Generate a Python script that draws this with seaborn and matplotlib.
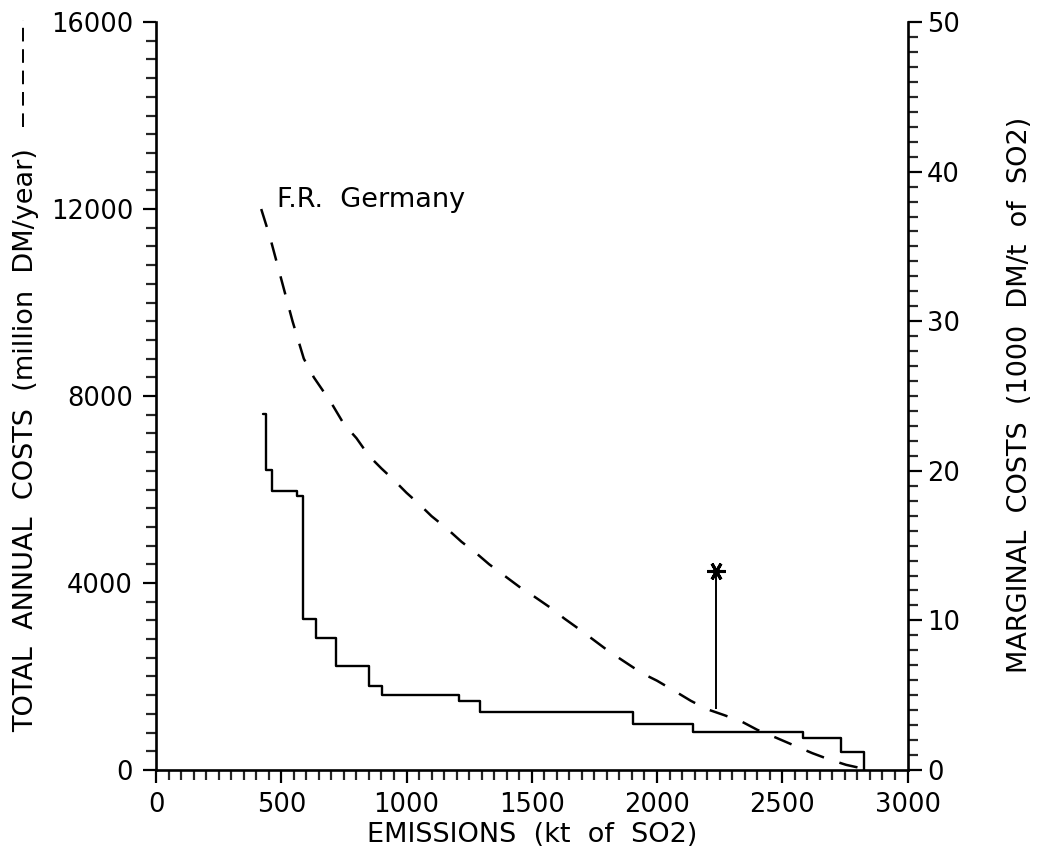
import numpy as np
import pandas as pd
import matplotlib
matplotlib.use("Agg")
import matplotlib.pyplot as plt
from matplotlib.lines import Line2D
from matplotlib.ticker import MultipleLocator
import seaborn as sns

# Total annual abatement cost curve (million DM/year) vs. remaining emissions (kt SO2)
total_emissions = [420, 455, 490, 545, 590, 630, 700, 750, 800, 850, 900, 950, 1000,
                   1050, 1100, 1160, 1220, 1280, 1330, 1400, 1450, 1510, 1575, 1630,
                   1690, 1750, 1810, 1875, 1940, 2000, 2070, 2135, 2200, 2270, 2340,
                   2400, 2480, 2545, 2620, 2685, 2755, 2830]
total_costs = [12000, 11400, 10700, 9600, 8800, 8400, 7850, 7400, 7100, 6720, 6450,
               6200, 5930, 5690, 5430, 5170, 4880, 4630, 4400, 4120, 3920, 3710, 3470,
               3240, 3010, 2770, 2530, 2300, 2070, 1910, 1690, 1480, 1300, 1170, 1030,
               860, 680, 530, 360, 230, 110, 20]

# Marginal cost step function (1000 DM/t SO2), each level holds until the next breakpoint
step_emissions = [428, 439, 462, 562, 588, 638, 720, 850, 901, 1211, 1293, 1903,
                  2143, 2584, 2733, 2828]
marginal_costs = [23.8, 20.05, 18.67, 18.3, 10.1, 8.8, 6.95, 5.64, 5.0, 4.63, 3.9,
                  3.05, 2.56, 2.12, 1.18, 0.0]

# Current emission point
point_emission = 2235
point_total_cost = 1300
point_marginal = 13.3

country = "F.R.  Germany"

sns.set_theme(style="ticks")
plt.rcParams["font.family"] = ["DejaVu Sans"]

fig = plt.figure(figsize=(10.4, 8.48), dpi=100)
ax = fig.add_axes([0.15, 0.092, 0.7226, 0.882])
ax2 = ax.twinx()

total_df = pd.DataFrame({"emissions": total_emissions, "cost": total_costs})
marg_df = pd.DataFrame({"emissions": step_emissions, "marginal": marginal_costs})

sns.lineplot(data=total_df, x="emissions", y="cost", ax=ax, color="black",
             linewidth=1.8, linestyle=(0, (7.5, 6.5)), estimator=None, sort=False)
sns.lineplot(data=marg_df, x="emissions", y="marginal", ax=ax2, color="black",
             linewidth=1.7, drawstyle="steps-post", estimator=None, sort=False)

# Current point: connector from the total cost curve up to the marginal cost marker
ax2.vlines(point_emission, point_total_cost * 50 / 16000, point_marginal,
           color="black", linewidth=1.4)
ax2.plot([point_emission], [point_marginal], marker=(6, 2, 30), markersize=13,
         markeredgewidth=2.2, color="black")

ax.text(482, 12190, country, fontsize=19.5, ha="left", va="center", color="black")

# Axes limits and ticks
ax.set_xlim(0, 3000)
ax.set_ylim(0, 16000)
ax2.set_ylim(0, 50)
ax.xaxis.set_major_locator(MultipleLocator(500))
ax.xaxis.set_minor_locator(MultipleLocator(50))
ax.yaxis.set_major_locator(MultipleLocator(4000))
ax.yaxis.set_minor_locator(MultipleLocator(400))
ax2.yaxis.set_major_locator(MultipleLocator(10))
ax2.yaxis.set_minor_locator(MultipleLocator(1))

for a in (ax, ax2):
    a.spines["top"].set_visible(False)
    for s in a.spines.values():
        s.set_linewidth(1.9)
        s.set_color("black")
ax.spines["right"].set_visible(False)
ax2.spines["left"].set_visible(False)
ax2.spines["bottom"].set_visible(False)

ax.tick_params(axis="both", which="major", direction="out", length=9.5, width=1.6,
               labelsize=18.5, colors="black")
ax.tick_params(axis="both", which="minor", direction="out", length=7, width=1.6)
ax.tick_params(axis="y", which="major", pad=7)
ax.tick_params(axis="x", which="major", pad=6)
ax2.tick_params(axis="y", which="major", direction="out", length=10, width=1.6,
                labelsize=18.5, pad=4, colors="black")
ax2.tick_params(axis="y", which="minor", direction="out", length=7, width=1.6)

ax.set_xlabel("EMISSIONS  (kt  of  SO2)", fontsize=19.5, labelpad=3, color="black")
ax.set_ylabel("")
ax2.set_ylabel("")

fig.text(26 / 1040, 1 - 440 / 848, "TOTAL  ANNUAL  COSTS  (million  DM/year)",
         rotation=90, ha="center", va="center", fontsize=19.5, color="black")
fig.add_artist(Line2D([23 / 1040, 23 / 1040], [1 - 127 / 848, 1 - 20 / 848],
                      transform=fig.transFigure, color="black", linewidth=1.4,
                      linestyle=(0, (7, 4))))
fig.text(1020 / 1040, 1 - 395 / 848, "MARGINAL  COSTS  (1000  DM/t  of  SO2)",
         rotation=90, ha="center", va="center", fontsize=19.5, color="black")

fig.savefig("out.png", dpi=100, facecolor="white")
